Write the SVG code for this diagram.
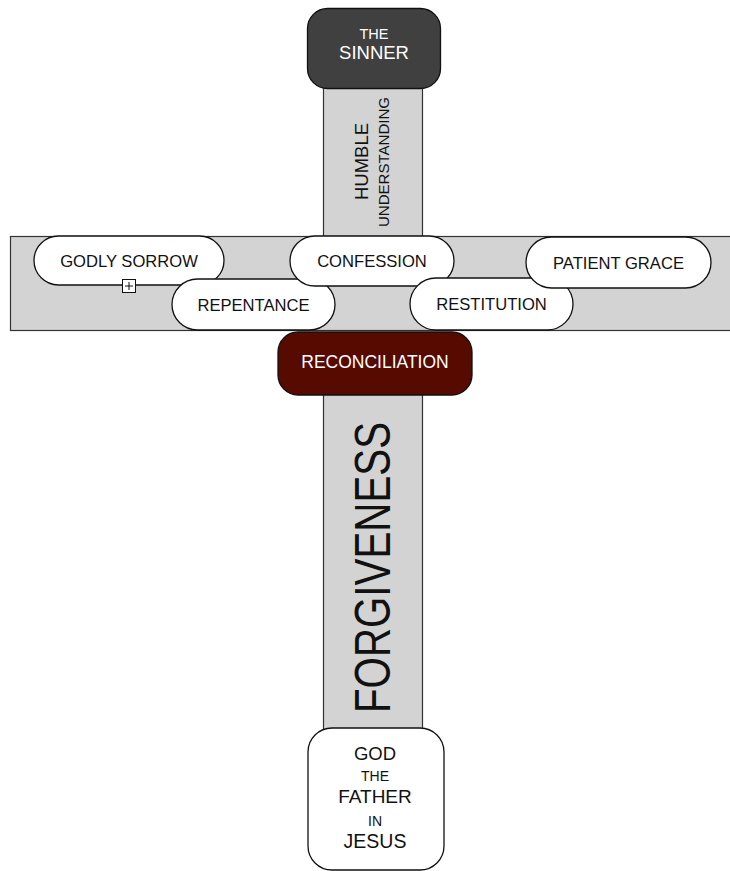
<svg xmlns="http://www.w3.org/2000/svg" width="730" height="871" viewBox="0 0 730 871">
<style>
.bar{fill:#d3d3d3;stroke:#333;stroke-width:1.2}
.pill{fill:#fff;stroke:#111;stroke-width:1.3}
.t{font-family:"Liberation Sans",Arial,sans-serif;text-anchor:middle;fill:#111}
.p{font-size:16.6px}
.w{fill:#fff}
</style>
<rect width="730" height="871" fill="#fff"/>
<g id="connectors">
<rect class="bar" x="323.5" y="80" width="99" height="157"/>
<rect class="bar" x="323.5" y="385" width="99" height="348"/>
<rect class="bar" x="10.5" y="236.5" width="722" height="94"/>
</g>
<g id="sinner">
<rect x="307.5" y="8.5" width="133" height="80" rx="20" fill="#404040" stroke="#111" stroke-width="1.3"/>
<text class="t w" x="374" y="39" font-size="14.5">THE</text>
<text class="t w" x="374" y="59" font-size="18.5">SINNER</text>
</g>
<g id="humble">
<text class="t" transform="translate(368,161.5) rotate(-90)" font-size="18" textLength="77" lengthAdjust="spacingAndGlyphs">HUMBLE</text>
<text class="t" transform="translate(389,162) rotate(-90)" font-size="14.5" textLength="130" lengthAdjust="spacingAndGlyphs">UNDERSTANDING</text>
</g>
<g id="godly-sorrow">
<rect class="pill" x="34" y="236" width="190" height="49" rx="24.5"/>
<text class="t p" x="129" y="267">GODLY SORROW</text>
<rect x="122.5" y="279.5" width="13" height="13" fill="#fff" stroke="#111" stroke-width="1"/>
<path d="M129 282v8M125 286h8" stroke="#111" stroke-width="1"/>
</g>
<g id="repentance">
<rect class="pill" x="172" y="279" width="163" height="51" rx="25.5"/>
<text class="t p" x="253.5" y="310.5">REPENTANCE</text>
</g>
<g id="confession">
<rect class="pill" x="290" y="236" width="164" height="50" rx="25"/>
<text class="t p" x="372" y="267">CONFESSION</text>
</g>
<g id="restitution">
<rect class="pill" x="410" y="278" width="163" height="52" rx="26"/>
<text class="t p" x="491.5" y="310">RESTITUTION</text>
</g>
<g id="patient-grace">
<rect class="pill" x="526" y="237" width="185" height="51" rx="25.5"/>
<text class="t p" x="618.5" y="268.5">PATIENT GRACE</text>
</g>
<g id="reconciliation">
<rect x="278" y="332" width="194" height="63" rx="20" fill="#560a00" stroke="#111" stroke-width="1.3"/>
<text class="t w" x="375" y="368" font-size="17.5">RECONCILIATION</text>
</g>
<g id="forgiveness">
<text class="t" transform="translate(390,567.5) rotate(-90)" font-size="50" textLength="291" lengthAdjust="spacingAndGlyphs">FORGIVENESS</text>
</g>
<g id="god">
<rect class="pill" x="308" y="728" width="136" height="142" rx="24"/>
<text class="t" x="375" y="760" font-size="18.5">GOD</text>
<text class="t" x="375" y="781" font-size="14">THE</text>
<text class="t" x="375" y="803" font-size="19">FATHER</text>
<text class="t" x="375" y="826" font-size="14">IN</text>
<text class="t" x="375" y="848" font-size="19.5">JESUS</text>
</g>
</svg>
